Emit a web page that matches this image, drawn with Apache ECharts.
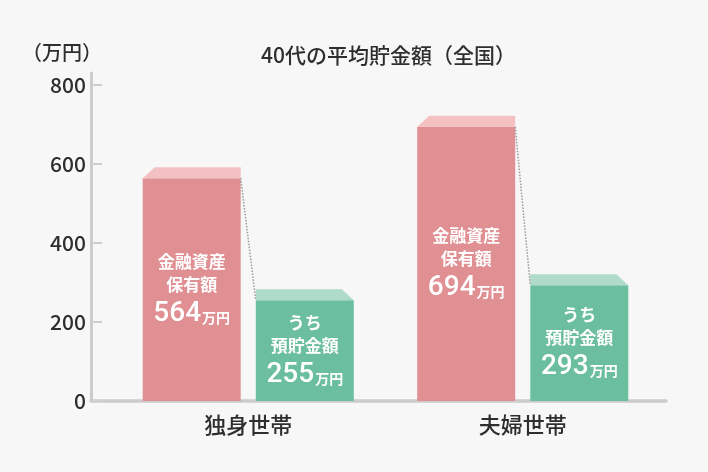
<!DOCTYPE html>
<html>
<head>
<meta charset="utf-8">
<script src="https://cdn.jsdelivr.net/npm/echarts@6/dist/echarts.min.js"></script>
<style>
html,body{margin:0;padding:0;background:#f7f7f7;}
#chart{width:708px;height:472px;}
</style>
</head>
<body>
<div id="chart"></div>
<script>
const categories = ['独身世帯', '夫婦世帯'];
const totalAssets = [564, 694];
const savings = [255, 293];
const totalLabel = ['金融資産', '保有額'];
const savingsLabel = ['うち', '預貯金額'];
const unitText = '万円';
const yMin = 0, yMax = 800, yInterval = 200;

const FONT = '"Noto Sans CJK JP", "Noto Sans", sans-serif';
const NUMFONT = 'Roboto, "Noto Sans CJK JP", sans-serif';
const RED = '#e08f93', RED_CAP = '#f4c1c2';
const GREEN = '#6cbf9e', GREEN_CAP = '#afdcc8';

const chart = echarts.init(document.getElementById('chart'));

const seriesData = categories.map((c, i) => [i, totalAssets[i], savings[i]]);

function renderItem(params, api) {
  const idx = api.value(0);
  const tot = api.value(1);
  const sav = api.value(2);
  const base = api.coord([idx, 0]);
  const cx = base[0], y0 = base[1];
  const band = api.size([1, 0])[0];
  const bw = band * 0.357;
  const gap = band * 0.055;
  const capH = 11, capS = 12;
  const yR = api.coord([idx, tot])[1];
  const yG = api.coord([idx, sav])[1];
  const rL = cx - gap / 2 - bw, rR = cx - gap / 2;
  const gL = cx + gap / 2, gR = cx + gap / 2 + bw;
  const rich = {
    t: { fontSize: 17, fontWeight: 'bold', fontFamily: FONT, fill: '#fff', lineHeight: 23 },
    n: { fontSize: 28, fontWeight: 500, fontFamily: NUMFONT, fill: '#fff', lineHeight: 36 },
    u: { fontSize: 14, fontWeight: 'bold', fontFamily: FONT, fill: '#fff', lineHeight: 36, padding: [8, 0, 0, 1] }
  };
  const mk = (lines, v) => lines.map(l => '{t|' + l + '}').join('\n') + '\n{n|' + v + '}{u|' + unitText + '}';
  return {
    type: 'group',
    children: [
      { type: 'rect', shape: { x: rL, y: yR, width: bw, height: y0 - yR }, style: { fill: RED } },
      { type: 'polygon', shape: { points: [[rL, yR], [rL + capS, yR - capH], [rR, yR - capH], [rR, yR]] }, style: { fill: RED_CAP } },
      { type: 'rect', shape: { x: gL, y: yG, width: bw, height: y0 - yG }, style: { fill: GREEN } },
      { type: 'polygon', shape: { points: [[gL, yG], [gL, yG - capH], [gR - capS, yG - capH], [gR, yG]] }, style: { fill: GREEN_CAP } },
      { type: 'line', shape: { x1: rR, y1: yR, x2: gL, y2: yG }, style: { stroke: '#9a9a9a', lineWidth: 1.5, lineDash: [1.5, 1.5] } },
      { type: 'text', style: { text: mk(totalLabel, tot), x: (rL + rR) / 2, y: (yR + y0) / 2 + 1, align: 'center', verticalAlign: 'middle', rich: rich } },
      { type: 'text', style: { text: mk(savingsLabel, sav), x: (gL + gR) / 2, y: (yG + y0) / 2 + 1, align: 'center', verticalAlign: 'middle', rich: rich } }
    ]
  };
}

chart.setOption({
  backgroundColor: '#f7f7f7',
  animation: false,
  textStyle: { fontFamily: FONT },
  title: [
    { text: '40代の平均貯金額（全国）', left: 261, top: 45, padding: 0, textStyle: { fontSize: 21, fontWeight: 500, color: '#2e2e2e', fontFamily: FONT } },
    { text: '（万円）', left: 22, top: 42, padding: 0, textStyle: { fontSize: 20, fontWeight: 500, color: '#2e2e2e', fontFamily: FONT } }
  ],
  grid: [
    { left: 111, right: 48, top: 85, bottom: 71 },
    { left: 91, right: 42, top: 73, bottom: 71 }
  ],
  xAxis: [
    { gridIndex: 0, type: 'category', data: categories, axisLine: { show: false }, axisTick: { show: false },
      axisLabel: { fontSize: 22, fontWeight: 500, color: '#2e2e2e', margin: 13, fontFamily: FONT } },
    { gridIndex: 1, type: 'value', min: 0, max: 1, axisLine: { show: true, onZero: false, lineStyle: { color: '#cccccc', width: 3.5 } },
      axisLabel: { show: false }, axisTick: { show: false }, splitLine: { show: false } }
  ],
  yAxis: [
    { gridIndex: 0, type: 'value', min: yMin, max: yMax, interval: yInterval, offset: 20,
      axisLine: { show: false },
      axisTick: { show: true, inside: true, length: 11, lineStyle: { color: '#cfcfcf', width: 2 } },
      axisLabel: { fontSize: 21, fontWeight: 500, color: '#2e2e2e', margin: 5, fontFamily: FONT },
      splitLine: { show: false } },
    { gridIndex: 1, type: 'value', min: 0, max: 1, axisLine: { show: true, onZero: false, lineStyle: { color: '#cccccc', width: 3 } },
      axisLabel: { show: false }, axisTick: { show: false }, splitLine: { show: false } }
  ],
  series: [
    { type: 'custom', xAxisIndex: 0, yAxisIndex: 0, renderItem: renderItem, data: seriesData, encode: { x: 0, y: [1, 2] } }
  ]
});
</script>
</body>
</html>
